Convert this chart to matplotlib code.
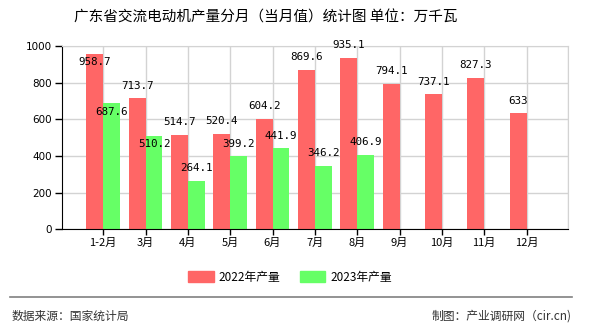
import matplotlib
matplotlib.use("Agg")
import matplotlib.pyplot as plt
from matplotlib.patches import Patch
from matplotlib.lines import Line2D

plt.rcParams['font.family'] = ['Noto Sans CJK SC', 'DejaVu Sans']

categories = ["1-2月", "3月", "4月", "5月", "6月", "7月", "8月", "9月", "10月", "11月", "12月"]
values_2022 = [958.7, 713.7, 514.7, 520.4, 604.2, 869.6, 935.1, 794.1, 737.1, 827.3, 633]
values_2023 = [687.6, 510.2, 264.1, 399.2, 441.9, 346.2, 406.9]
label_2022 = "2022年产量"
label_2023 = "2023年产量"
y_ticks = [0, 200, 400, 600, 800, 1000]
title = "广东省交流电动机产量分月（当月值）统计图 单位：万千瓦"
source = "数据来源：国家统计局"
maker = "制图：产业调研网（cir.cn)"

# label offsets in points (layout only)
off_2022 = [-6, 9, 9, 9, 9, 9, 9, 9, 9, 9, 9]
off_2023 = [-6, -6, 9, 9, 9, 9, 9]

red = "#ff6666"
green = "#66ff66"

fig = plt.figure(figsize=(5.9, 3.3), dpi=100)
ax = fig.add_axes([61.7/590, 1-229.3/330, (568-61.7)/590, (229.3-46)/330])

w = 0.4
x22 = [i - w/2 for i in range(len(values_2022))]
x23 = [i + w/2 for i in range(len(values_2023))]
ax.bar(x22, values_2022, width=w, color=red, zorder=2)
ax.bar(x23, values_2023, width=w, color=green, zorder=2)

for x, v, o in zip(x22, values_2022, off_2022):
    ax.annotate(f"{v:g}", (x, v), xytext=(0, o), textcoords="offset points",
                ha="center", va="center", fontsize=7.8, family="DejaVu Sans Mono", zorder=3)
for x, v, o in zip(x23, values_2023, off_2023):
    ax.annotate(f"{v:g}", (x, v), xytext=(0, o), textcoords="offset points",
                ha="center", va="center", fontsize=7.8, family="DejaVu Sans Mono", zorder=3)

ax.set_xlim(-0.98, len(categories) - 0.02)
ax.set_ylim(0, 1000)
ax.set_yticks(y_ticks)
ax.set_yticklabels([str(t) for t in y_ticks], fontsize=7.5, family="DejaVu Sans")
ax.set_xticks(range(len(categories)))
ax.set_xticklabels(categories, fontsize=8)
ax.tick_params(axis="y", length=5, width=1, color="black", pad=2)
ax.tick_params(axis="x", length=4, width=1, color="black", pad=2)

ax.grid(True, color="#d3d3d3", linewidth=1, zorder=0)
ax.set_axisbelow(True)
for s in ["top", "right"]:
    ax.spines[s].set_color("#d3d3d3")
ax.spines["left"].set_color("black")
ax.spines["bottom"].set_color("black")
# right end vertical gridline tick
ax.axvline(len(categories) - 0.02, color="#d3d3d3", lw=1, zorder=0)

fig.text(266/590, 1-18/330, title, ha="center", va="center", fontsize=10.5)

handles = [Patch(color=red, label=label_2022), Patch(color=green, label=label_2023)]
fig.legend(handles=handles, loc="center", bbox_to_anchor=(290/590, 1-277/330), ncol=2,
           frameon=False, fontsize=8.5, handlelength=2.2, handleheight=1.0,
           handletextpad=0.4, columnspacing=1.6)

fig.add_artist(Line2D([10/590, 572/590], [1-297/330, 1-297/330], color="#808080", lw=1.2))
fig.text(12/590, 1-316/330, source, ha="left", va="center", fontsize=8.5, color="#333333")
fig.text(572/590, 1-316/330, maker, ha="right", va="center", fontsize=8.5, color="#333333")

fig.savefig("out.png", dpi=100)
